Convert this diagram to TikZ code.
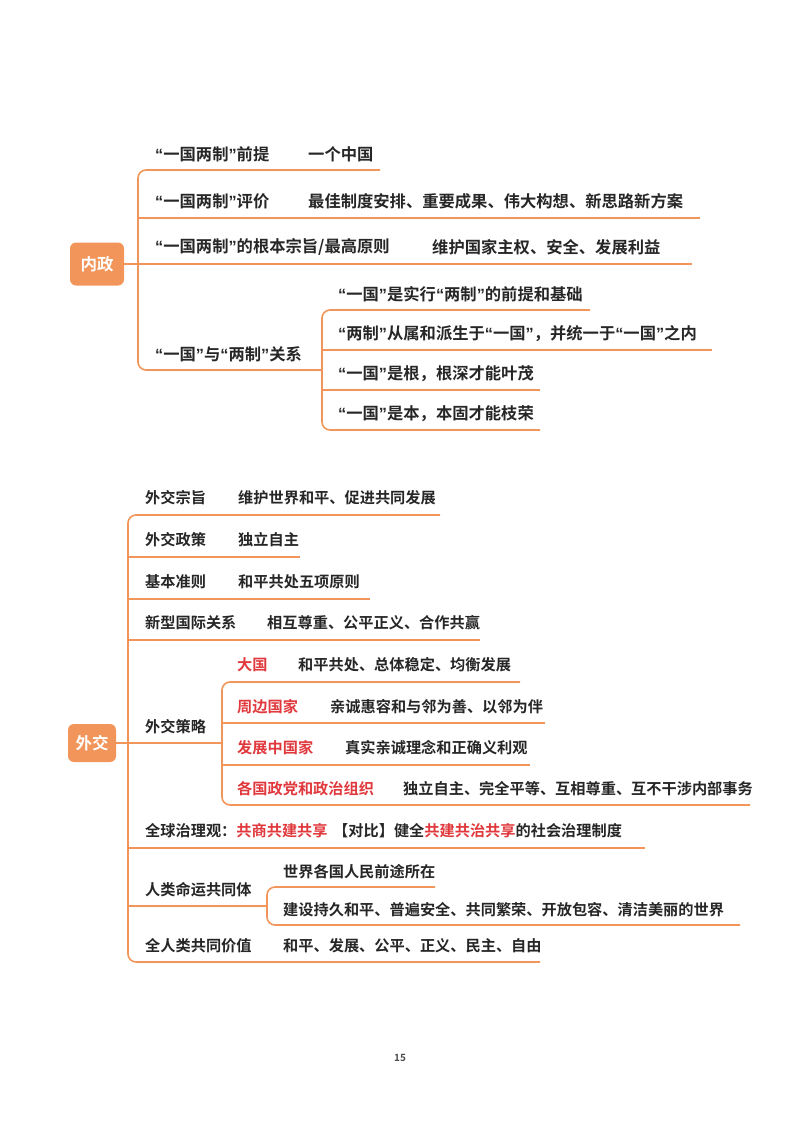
\documentclass[tikz,border=0pt]{standalone}
\usepackage{fontspec}
\setmainfont{Noto Sans CJK SC Bold}
\newfontfamily\qf{Liberation Sans Bold}
\newcommand\oq{{\qf “}}
\newcommand\cq{{\qf ”}}
\begin{document}
\begin{tikzpicture}[x=1pt,y=-1pt]
\definecolor{lc}{HTML}{F2955B}
\definecolor{rc}{HTML}{E0383C}
\tikzset{br/.style={draw=lc, line width=1.6pt, rounded corners=8pt},
  tx/.style={anchor=west, inner sep=0pt, font=\fontsize{16.3}{18}\selectfont, text=black!85},
  ts/.style={tx, font=\fontsize{15.2}{17}\selectfont},
  rd/.style={ts, text=rc},
  hub/.style={fill=lc, rounded corners=6pt, text=white, font=\fontsize{16.5}{18}\selectfont, inner sep=0pt}}
\useasboundingbox (0,0) rectangle (800,1132);
% ===== 内政 =====
\node[hub, minimum width=54pt, minimum height=43pt] (nz) at (97,264) {内政};
\draw[br] (380,170) -- (138,170) -- (138,370) -- (322,370);
\draw[br] (nz.east) -- (692,264);
\draw[br] (138,218) -- (700,218);
\node[tx] (a1) at (155,154) {\oq 一国两制\cq 前提};
\node[tx] (a1b) at (308,154) {一个中国};
\node[tx] (a2) at (155,201) {\oq 一国两制\cq 评价};
\node[tx] (a2b) at (308,201) {最佳制度安排、重要成果、伟大构想、新思路新方案};
\node[tx] (a3) at (155,247) {\oq 一国两制\cq 的根本宗旨/最高原则};
\node[tx] (a3b) at (432,247) {维护国家主权、安全、发展利益};
\node[tx] (a4) at (155,354) {\oq 一国\cq 与\oq 两制\cq 关系};
\draw[br] (590,310) -- (322,310) -- (322,430) -- (540,430);
\draw[br] (322,350) -- (712,350);
\draw[br] (322,390) -- (540,390);
\node[tx] (b1) at (338,294) {\oq 一国\cq 是实行\oq 两制\cq 的前提和基础};
\node[tx] (b2) at (338,334) {\oq 两制\cq 从属和派生于\oq 一国\cq ，并统一于\oq 一国\cq 之内};
\node[tx] (b3) at (338,374) {\oq 一国\cq 是根，根深才能叶茂};
\node[tx] (b4) at (338,414) {\oq 一国\cq 是本，本固才能枝荣};
% ===== 外交 =====
\node[hub, minimum width=48pt, minimum height=38pt] (wj) at (92,743) {外交};
\draw[br] (440,515) -- (128,515) -- (128,962) -- (540,962);
\draw[br] (128,557) -- (300,557);
\draw[br] (128,599) -- (370,599);
\draw[br] (128,640) -- (480,640);
\draw[br] (wj.east) -- (222,743);
\draw[br] (128,848) -- (645,848);
\draw[br] (128,906) -- (267,906);
\node[ts] (c1) at (145,498) {外交宗旨};
\node[ts] (c1b) at (238,498) {维护世界和平、促进共同发展};
\node[ts] (c2) at (145,540) {外交政策};
\node[ts] (c2b) at (238,540) {独立自主};
\node[ts] (c3) at (145,582) {基本准则};
\node[ts] (c3b) at (238,582) {和平共处五项原则};
\node[ts] (c4) at (145,623) {新型国际关系};
\node[ts] (c4b) at (267,623) {相互尊重、公平正义、合作共赢};
\node[ts] (c5) at (145,727) {外交策略};
\draw[br] (520,682) -- (222,682) -- (222,805) -- (750,805);
\draw[br] (222,723) -- (545,723);
\draw[br] (222,765) -- (530,765);
\node[rd] (d1) at (237,665) {大国};
\node[ts] (d1b) at (298,665) {和平共处、总体稳定、均衡发展};
\node[rd] (d2) at (237,707) {周边国家};
\node[ts] (d2b) at (330,707) {亲诚惠容和与邻为善、以邻为伴};
\node[rd] (d3) at (237,748) {发展中国家};
\node[ts] (d3b) at (345,748) {真实亲诚理念和正确义利观};
\node[rd] (d4) at (237,789) {各国政党和政治组织};
\node[ts] (d4b) at (403,789) {独立自主、完全平等、互相尊重、互不干涉内部事务};
\node[ts] (c6) at (145,831) {全球治理观：\textcolor{rc}{共商共建共享}};
\node[ts] (c6b) at (333,831) {【对比】健全\textcolor{rc}{共建共治共享}的社会治理制度};
\node[ts] (c7) at (145,890) {人类命运共同体};
\draw[br] (435,887) -- (267,887) -- (267,925) -- (740,925);
\node[ts] (e1) at (283,872) {世界各国人民前途所在};
\node[ts] (e2) at (283,910) {建设持久和平、普遍安全、共同繁荣、开放包容、清洁美丽的世界};
\node[ts] (c8) at (145,946) {全人类共同价值};
\node[ts] (c8b) at (283,946) {和平、发展、公平、正义、民主、自由};
\node[font=\fontsize{10}{12}\selectfont, text=black!70] (pg) at (400,1058) {15};
\end{tikzpicture}
\end{document}
